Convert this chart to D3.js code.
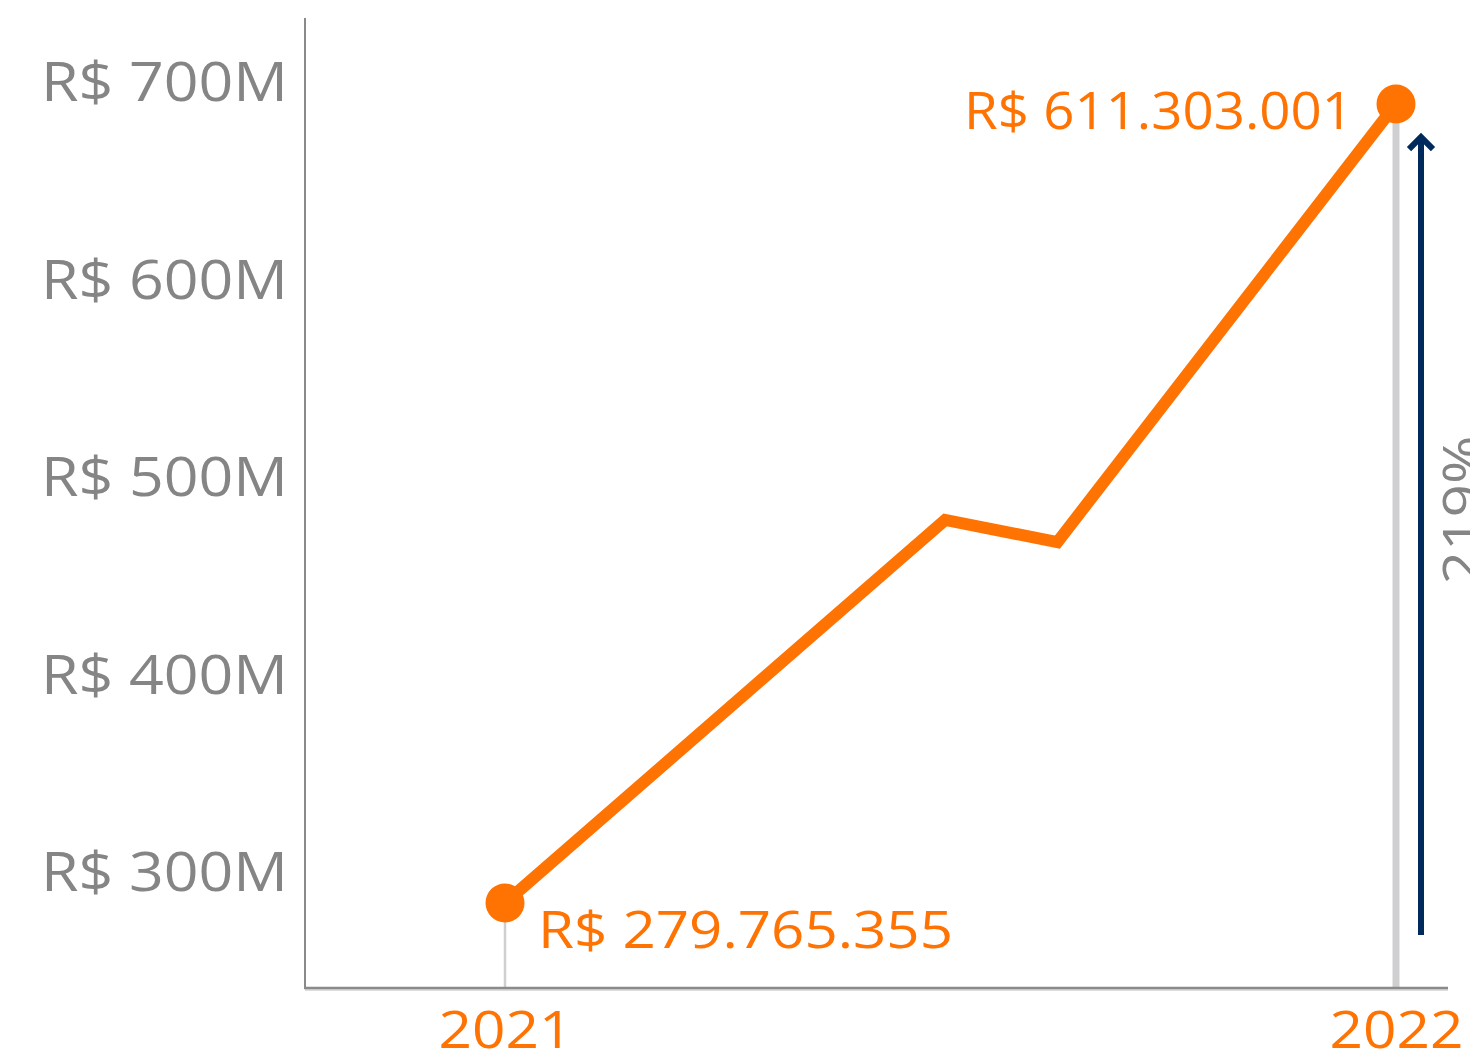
<!DOCTYPE html>
<html>
<head>
<meta charset="utf-8">
<script src="https://cdn.jsdelivr.net/npm/d3@7"></script>
<style>
  html, body { margin: 0; padding: 0; background: #ffffff; overflow: hidden; }
  svg { display: block; }
  text { font-family: "Open Sans", "Noto Sans", sans-serif; }
</style>
</head>
<body>
<svg id="chart" width="1470" height="1056"></svg>
<script>
// ---- data ----
const years = [2021, 2022];
const pointX = [2021, 2021.494, 2021.62, 2022];          // position along the year axis
const pointValues = [284.1, 478.0, 466.8, 688.6];         // R$ millions (as drawn)
const endLabels = ["R$ 279.765.355", "R$ 611.303.001"];
const yTicks = [300, 400, 500, 600, 700];
const growthLabel = "219%";

// ---- layout ----
const W = 1470, H = 1056;
const plotLeft = 305, plotRight = 1448, plotTop = 18, plotBottom = 988;
const orange = "#ff7303", gray = "#858585", navy = "#002a5c", light = "#cfcfd1";
const svg = d3.select("#chart");

const x = d3.scaleLinear().domain([2021, 2022]).range([505, 1396]);
const y = d3.scaleLinear().domain([300, 700]).range([871.5, 81.5]);

// horizontal stretch so fallback font approximates the wide geometric original
function stretch(sel, factor) {
  sel.each(function () {
    const w = this.getComputedTextLength();
    d3.select(this).attr("textLength", w * factor).attr("lengthAdjust", "spacingAndGlyphs");
  });
}
function fitWidth(sel, width) {
  sel.attr("textLength", width).attr("lengthAdjust", "spacingAndGlyphs");
}

// drop lines
svg.append("line")
  .attr("x1", x(years[0])).attr("x2", x(years[0]))
  .attr("y1", y(pointValues[0])).attr("y2", plotBottom)
  .attr("stroke", light).attr("stroke-width", 2.5);
svg.append("line")
  .attr("x1", x(years[1])).attr("x2", x(years[1]))
  .attr("y1", y(pointValues[pointValues.length - 1])).attr("y2", plotBottom)
  .attr("stroke", light).attr("stroke-width", 7);

// y axis
const yAxis = d3.axisLeft(y).tickValues(yTicks).tickSize(0).tickPadding(17)
  .tickFormat(d => "R$ " + d + "M");
const gy = svg.append("g").attr("transform", `translate(${plotLeft},0)`).call(yAxis);
gy.select(".domain").remove();
gy.selectAll("text").attr("fill", gray).attr("font-size", 54).attr("dy", "0.36em");
svg.append("line").attr("x1", plotLeft).attr("x2", plotLeft)
  .attr("y1", plotTop).attr("y2", plotBottom + 1)
  .attr("stroke", "#8a8a8a").attr("stroke-width", 2);

// x axis
svg.append("line").attr("x1", plotLeft).attr("x2", plotRight)
  .attr("y1", plotBottom + 2).attr("y2", plotBottom + 2)
  .attr("stroke", "#d2d2d2").attr("stroke-width", 1.5);
svg.append("line").attr("x1", plotLeft - 1).attr("x2", plotRight)
  .attr("y1", plotBottom).attr("y2", plotBottom)
  .attr("stroke", "#8a8a8a").attr("stroke-width", 2.5);
const xAxis = d3.axisBottom(x).tickValues(years).tickSize(0).tickFormat(d3.format("d"));
const gx = svg.append("g").attr("transform", `translate(0,${plotBottom})`).call(xAxis);
gx.select(".domain").remove();
gx.selectAll("text").attr("fill", orange).attr("font-size", 51)
  .attr("y", 60).attr("dy", 0);

// line
const pts = pointX.map((px, i) => [px, pointValues[i]]);
svg.append("path").datum(pts)
  .attr("d", d3.line().x(d => x(d[0])).y(d => y(d[1])))
  .attr("fill", "none").attr("stroke", orange).attr("stroke-width", 12)
  .attr("stroke-linejoin", "miter");

// end markers
const ends = [pts[0], pts[pts.length - 1]];
svg.selectAll("circle.end").data(ends).join("circle").attr("class", "end")
  .attr("cx", d => x(d[0])).attr("cy", d => y(d[1])).attr("r", 19.5)
  .attr("fill", orange);

// value labels
const l1 = svg.append("text").text(endLabels[0])
  .attr("x", x(years[0]) + 33).attr("y", y(pointValues[0]) + 45)
  .attr("fill", orange).attr("font-size", 52);
const l2 = svg.append("text").text(endLabels[1])
  .attr("x", x(years[1]) - 43).attr("y", y(pointValues[pointValues.length - 1]) + 25)
  .attr("text-anchor", "end")
  .attr("fill", orange).attr("font-size", 52);

// growth arrow
const ax = 1421;
const aTop = y(pointValues[pointValues.length - 1]) + 30;
const aBot = y(pointValues[0]) + 32;
svg.append("line").attr("x1", ax).attr("x2", ax).attr("y1", aBot).attr("y2", aTop + 2)
  .attr("stroke", navy).attr("stroke-width", 6);
svg.append("path")
  .attr("d", `M${ax - 12},${aTop + 15} L${ax},${aTop + 3} L${ax + 12},${aTop + 15}`)
  .attr("fill", "none").attr("stroke", navy).attr("stroke-width", 6)
  .attr("stroke-linejoin", "miter");
const gl = svg.append("text").text(growthLabel)
  .attr("transform", `translate(1480,510) rotate(-90)`)
  .attr("text-anchor", "middle")
  .attr("fill", gray).attr("font-size", 52);

// stretch texts to match original widths
const ref = gy.selectAll("text").filter(d => d === 700).node();
const factor = 247 / ref.getComputedTextLength();
stretch(gy.selectAll("text"), factor);
stretch(gx.selectAll("text"), factor * 1.02);
fitWidth(l1, 415);
fitWidth(l2, 389);
stretch(gl, factor);
</script>
</body>
</html>
